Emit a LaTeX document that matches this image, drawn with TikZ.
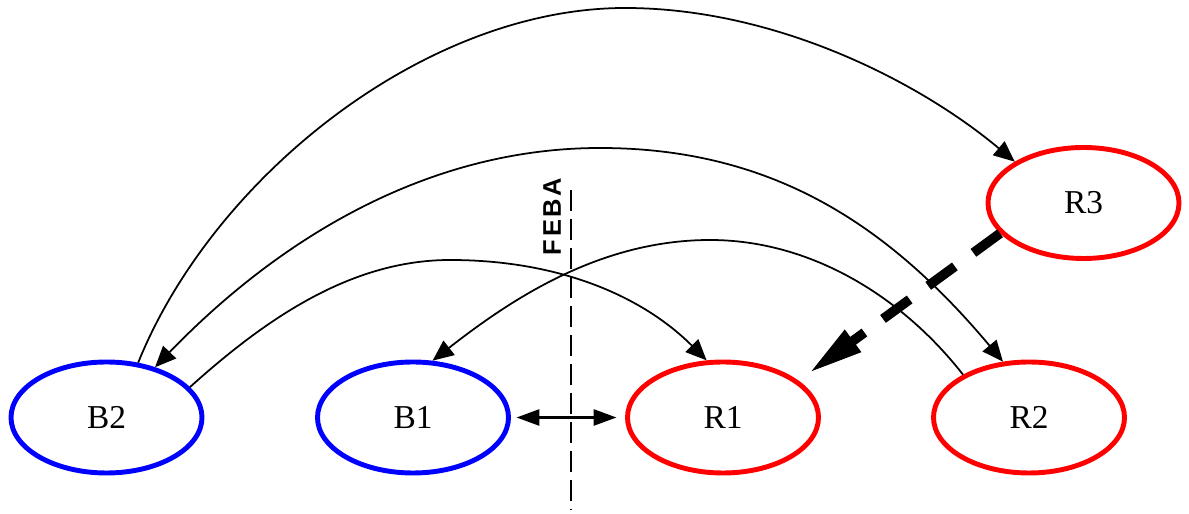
\documentclass[tikz,border=0pt]{standalone}
\usepackage{fontspec}
\setmainfont{Liberation Serif}
\setsansfont{Liberation Sans}
\usetikzlibrary{arrows.meta,positioning,shapes.geometric}

\begin{document}
\begin{tikzpicture}[
	unit/.style={ellipse,draw,line width=2.8pt,minimum width=3.82cm,minimum height=2.22cm,inner sep=0pt,font=\fontsize{19}{22}\selectfont},
	move/.style={line width=1pt,-{Triangle[length=0.42cm,width=0.36cm]}}
	]
	
	\useasboundingbox (0,0) rectangle (23.78,10.28);
	
	\foreach \name/\x/\col in
	{B2/2.13/blue, B1/8.26/blue, R1/14.46/red, R2/20.58/red}
	{
		\node[unit,draw=\col] (\name) at (\x,1.93) {\name};
	}
	
	\node[unit,draw=red] (R3) at (21.67,6.22) {R3};
	
	% FEBA
	\coordinate (febatop) at (11.42,6.48);
	\coordinate (febabot) at (11.42,0.08);
	\draw[line width=1.5pt,dash pattern=on 12pt off 4.5pt]
	(febatop) -- (febabot);
	\node[rotate=90,font=\sffamily\bfseries\fontsize{14.5}{16}\selectfont]
	(feba) at (11.04,5.95) {F\kern1.5pt E\kern1.5pt B\kern1.5pt A};
	
	% arc tops
	\coordinate (topA) at (12.5,10.12);
	\coordinate (topB) at (12.0,7.32);
	\coordinate (topC) at (9.0,5.08);
	\coordinate (topD) at (14.2,5.48);
	
	\draw[move]
	(B2.60) .. controls +(68:4) and +(180:4) .. (topA)
	.. controls +(0:3) and +(140:2.5) .. (R3.149);
	
	\draw[move,{Triangle[length=0.42cm,width=0.36cm]}-{Triangle[length=0.42cm,width=0.36cm]}]
	(B2.46) .. controls +(46:3.5) and +(180:3.5) .. (topB)
	.. controls +(0:3.5) and +(130:3.5) .. (R2.115);
	
	\draw[move]
	(B2.20) .. controls +(42:2) and +(180:2) .. (topC)
	.. controls +(0:2.2) and +(135:1.8) .. (R1.106);
	
	\draw[move]
	(R2.147) .. controls +(128:2) and +(0:2) .. (topD)
	.. controls +(180:2.2) and +(38:2) .. (B1.71);
	
	\draw[line width=1.6pt,{Triangle[length=0.46cm,width=0.32cm]}-{Triangle[length=0.46cm,width=0.32cm]},shorten <=0.11cm,shorten >=0.17cm]
	(B1.east) -- (R1.west);
	
	\draw[line width=5.5pt,dash pattern=on 0.66cm off 0.46cm,-{Triangle[length=1.1cm,width=0.5cm]},shorten >=0.25cm]
	(R3.200) -- (R1.26);
	
\end{tikzpicture}
\end{document}
